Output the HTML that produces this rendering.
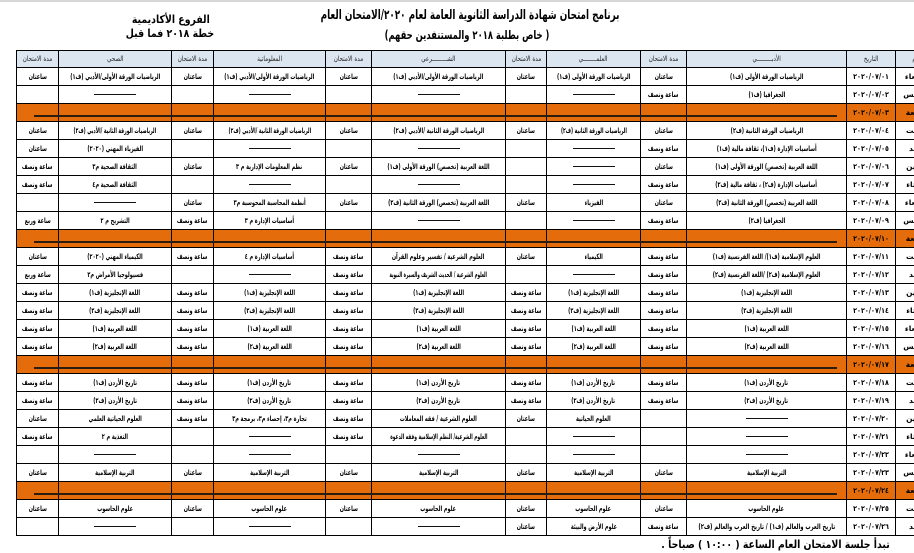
<!DOCTYPE html>
<html lang="ar">
<head>
<meta charset="utf-8">
<style>
html,body{margin:0;padding:0;}
body{width:914px;height:553px;overflow:hidden;background:#fff;position:relative;font-family:"DejaVu Sans","Liberation Sans",sans-serif;color:#000;}
.topbar{position:absolute;left:0;top:0;width:914px;height:2px;background:#d6d6d6;}
.ttl{position:absolute;white-space:nowrap;font-weight:bold;direction:rtl;}
.ttl span{display:inline-block;}
table{position:absolute;left:16px;top:50px;border-collapse:collapse;table-layout:fixed;width:924px;direction:rtl;}
td,th{border:1px solid #000;padding:0;text-align:center;white-space:nowrap;vertical-align:middle;line-height:10px;}
tr{height:18px;}
tr.h{height:17px;}
th{background:#dce6f1;font-size:7px;font-weight:normal;color:#222;}
th span{display:inline-block;transform:scaleX(.8);}
td{font-size:7.5px;font-weight:bold;}
td b{display:inline-block;transform:scaleX(.66);font-weight:bold;margin:0 -70px;}
td b.l{transform:scaleX(.54);}
td i{display:inline-block;width:42px;height:1px;background:#111;vertical-align:middle;}
td.dt{position:relative;}
td.dt b{direction:ltr;unicode-bidi:isolate;transform:scaleX(.85);margin:0;}
td.dy{overflow:hidden;}
tr.o td{background:#e46c0a;}
td.dt s{position:absolute;right:calc(100% + 10px);top:11px;width:803px;height:2px;background:#2b1d10;text-decoration:none;}
</style>
</head>
<body>
<div class="topbar"></div>

<div class="ttl" style="right:295px;top:8px;font-size:13px;"><span style="transform:scaleX(.68);transform-origin:right center;">برنامج امتحان شهادة الدراسة الثانوية العامة لعام ٢٠٢٠/الامتحان العام</span></div>
<div class="ttl" style="right:365px;top:28px;font-size:12px;"><span style="transform:scaleX(.7);transform-origin:right center;">( خاص بطلبة ٢٠١٨ والمستنفدين حقهم)</span></div>

<div class="ttl" style="left:120px;width:102px;text-align:center;top:13px;font-size:11px;"><span style="transform:scaleX(.85);">الفروع الأكاديمية</span></div>
<div class="ttl" style="left:120px;width:102px;text-align:center;top:27px;font-size:11px;"><span style="transform:scaleX(.85);">خطة ٢٠١٨ فما قبل</span></div>

<table>
<colgroup>
<col style="width:45px"><col style="width:49px"><col style="width:160px"><col style="width:46px"><col style="width:94px"><col style="width:41px"><col style="width:134px"><col style="width:46px"><col style="width:112px"><col style="width:42px"><col style="width:113px"><col style="width:42px">
</colgroup>
<tr class="h"><th><span>اليوم</span></th><th><span>التاريخ</span></th><th><span>الأدبـــــــــي</span></th><th><span>مدة الامتحان</span></th><th><span>العلمــــــــي</span></th><th><span>مدة الامتحان</span></th><th><span>الشـــــــــرعي</span></th><th><span>مدة الامتحان</span></th><th><span>المعلوماتية</span></th><th><span>مدة الامتحان</span></th><th><span>الصحي</span></th><th><span>مدة الامتحان</span></th></tr>

<tr><td class="dy">الأربعاء</td><td class="dt"><b>٢٠٢٠/٠٧/٠١</b></td><td><b>الرياضيات الورقة الأولى (ف١)</b></td><td><b>ساعتان</b></td><td><b>الرياضيات الورقة الأولى (ف١)</b></td><td><b>ساعتان</b></td><td><b>الرياضيات الورقة الأولى/الأدبي (ف١)</b></td><td><b>ساعتان</b></td><td><b>الرياضيات الورقة الأولى/الأدبي (ف١)</b></td><td><b>ساعتان</b></td><td><b>الرياضيات الورقة الأولى/الأدبي (ف١)</b></td><td><b>ساعتان</b></td></tr>

<tr><td class="dy">الخميس</td><td class="dt"><b>٢٠٢٠/٠٧/٠٢</b></td><td><b>الجغرافيا (ف١)</b></td><td><b>ساعة ونصف</b></td><td><i></i></td><td></td><td><i></i></td><td></td><td><i></i></td><td></td><td><i></i></td><td></td></tr>

<tr class="o"><td class="dy">الجمعة</td><td class="dt"><b>٢٠٢٠/٠٧/٠٣</b><s></s></td><td></td><td></td><td></td><td></td><td></td><td></td><td></td><td></td><td></td><td></td></tr>

<tr><td class="dy">السبت</td><td class="dt"><b>٢٠٢٠/٠٧/٠٤</b></td><td><b>الرياضيات الورقة الثانية (ف٢)</b></td><td><b>ساعتان</b></td><td><b style="transform:scaleX(.6)">الرياضيات الورقة الثانية (ف٢)</b></td><td><b>ساعتان</b></td><td><b>الرياضيات الورقة الثانية /الأدبي (ف٢)</b></td><td><b>ساعتان</b></td><td><b style="transform:scaleX(.6)">الرياضيات الورقة الثانية /الأدبي (ف٢)</b></td><td><b>ساعتان</b></td><td><b style="transform:scaleX(.6)">الرياضيات الورقة الثانية /الأدبي (ف٢)</b></td><td><b>ساعتان</b></td></tr>

<tr><td class="dy">الأحد</td><td class="dt"><b>٢٠٢٠/٠٧/٠٥</b></td><td><b>أساسيات الإدارة (ف١)، ثقافة مالية (ف١)</b></td><td><b>ساعة ونصف</b></td><td><i></i></td><td></td><td><i></i></td><td></td><td><i></i></td><td></td><td><b>الفيزياء المهني (٢٠٢٠)</b></td><td><b>ساعتان</b></td></tr>

<tr><td class="dy">الاثنين</td><td class="dt"><b>٢٠٢٠/٠٧/٠٦</b></td><td><b>اللغة العربية (تخصص) الورقة الأولى (ف١)</b></td><td><b>ساعتان</b></td><td><i></i></td><td></td><td><b>اللغة العربية (تخصص) الورقة الأولى (ف١)</b></td><td><b>ساعتان</b></td><td><b>نظم المعلومات الإدارية م ٣</b></td><td><b>ساعتان</b></td><td><b>الثقافة الصحية م٣</b></td><td><b>ساعة ونصف</b></td></tr>

<tr><td class="dy">الثلاثاء</td><td class="dt"><b>٢٠٢٠/٠٧/٠٧</b></td><td><b>أساسيات الإدارة (ف٢) ، ثقافة مالية (ف٢)</b></td><td><b>ساعة ونصف</b></td><td><i></i></td><td></td><td><i></i></td><td></td><td><i></i></td><td></td><td><b>الثقافة الصحية م٤</b></td><td><b>ساعة ونصف</b></td></tr>

<tr><td class="dy">الأربعاء</td><td class="dt"><b>٢٠٢٠/٠٧/٠٨</b></td><td><b>اللغة العربية (تخصص) الورقة الثانية (ف٢)</b></td><td><b>ساعتان</b></td><td><b>الفيزياء</b></td><td><b>ساعتان</b></td><td><b>اللغة العربية (تخصص) الورقة الثانية (ف٢)</b></td><td><b>ساعتان</b></td><td><b>أنظمة المحاسبة المحوسبة م٣</b></td><td><b>ساعتان</b></td><td><i></i></td><td></td></tr>

<tr><td class="dy">الخميس</td><td class="dt"><b>٢٠٢٠/٠٧/٠٩</b></td><td><b>الجغرافيا (ف٢)</b></td><td><b>ساعة ونصف</b></td><td><i></i></td><td></td><td><i></i></td><td></td><td><b>أساسيات الإدارة م ٣</b></td><td><b>ساعة ونصف</b></td><td><b>التشريح م ٢</b></td><td><b>ساعة وربع</b></td></tr>

<tr class="o"><td class="dy">الجمعة</td><td class="dt"><b>٢٠٢٠/٠٧/١٠</b><s></s></td><td></td><td></td><td></td><td></td><td></td><td></td><td></td><td></td><td></td><td></td></tr>

<tr><td class="dy">السبت</td><td class="dt"><b>٢٠٢٠/٠٧/١١</b></td><td><b>العلوم الإسلامية (ف١)/ اللغة الفرنسية (ف١)</b></td><td><b>ساعة ونصف</b></td><td><b>الكيمياء</b></td><td><b>ساعتان</b></td><td><b>العلوم الشرعية / تفسير وعلوم القرآن</b></td><td><b>ساعة ونصف</b></td><td><b>أساسيات الإدارة م ٤</b></td><td><b>ساعة ونصف</b></td><td><b>الكيمياء المهني (٢٠٢٠)</b></td><td><b>ساعتان</b></td></tr>

<tr><td class="dy">الأحد</td><td class="dt"><b>٢٠٢٠/٠٧/١٢</b></td><td><b>العلوم الإسلامية (ف٢) /اللغة الفرنسية (ف٢)</b></td><td><b>ساعة ونصف</b></td><td><i></i></td><td></td><td><b class="l">العلوم الشرعية / الحديث الشريف والسيرة النبوية</b></td><td><b>ساعة ونصف</b></td><td><i></i></td><td></td><td><b>فسيولوجيا الأمراض م٢</b></td><td><b>ساعة وربع</b></td></tr>

<tr><td class="dy">الاثنين</td><td class="dt"><b>٢٠٢٠/٠٧/١٣</b></td><td><b>اللغة الإنجليزية (ف١)</b></td><td><b>ساعة ونصف</b></td><td><b>اللغة الإنجليزية (ف١)</b></td><td><b>ساعة ونصف</b></td><td><b>اللغة الإنجليزية (ف١)</b></td><td><b>ساعة ونصف</b></td><td><b>اللغة الإنجليزية (ف١)</b></td><td><b>ساعة ونصف</b></td><td><b>اللغة الإنجليزية (ف١)</b></td><td><b>ساعة ونصف</b></td></tr>

<tr><td class="dy">الثلاثاء</td><td class="dt"><b>٢٠٢٠/٠٧/١٤</b></td><td><b>اللغة الإنجليزية (ف٢)</b></td><td><b>ساعة ونصف</b></td><td><b>اللغة الإنجليزية (ف٢)</b></td><td><b>ساعة ونصف</b></td><td><b>اللغة الإنجليزية (ف٢)</b></td><td><b>ساعة ونصف</b></td><td><b>اللغة الإنجليزية (ف٢)</b></td><td><b>ساعة ونصف</b></td><td><b>اللغة الإنجليزية (ف٢)</b></td><td><b>ساعة ونصف</b></td></tr>

<tr><td class="dy">الأربعاء</td><td class="dt"><b>٢٠٢٠/٠٧/١٥</b></td><td><b>اللغة العربية (ف١)</b></td><td><b>ساعة ونصف</b></td><td><b>اللغة العربية (ف١)</b></td><td><b>ساعة ونصف</b></td><td><b>اللغة العربية (ف١)</b></td><td><b>ساعة ونصف</b></td><td><b>اللغة العربية (ف١)</b></td><td><b>ساعة ونصف</b></td><td><b>اللغة العربية (ف١)</b></td><td><b>ساعة ونصف</b></td></tr>

<tr><td class="dy">الخميس</td><td class="dt"><b>٢٠٢٠/٠٧/١٦</b></td><td><b>اللغة العربية (ف٢)</b></td><td><b>ساعة ونصف</b></td><td><b>اللغة العربية (ف٢)</b></td><td><b>ساعة ونصف</b></td><td><b>اللغة العربية (ف٢)</b></td><td><b>ساعة ونصف</b></td><td><b>اللغة العربية (ف٢)</b></td><td><b>ساعة ونصف</b></td><td><b>اللغة العربية (ف٢)</b></td><td><b>ساعة ونصف</b></td></tr>

<tr class="o"><td class="dy">الجمعة</td><td class="dt"><b>٢٠٢٠/٠٧/١٧</b><s></s></td><td></td><td></td><td></td><td></td><td></td><td></td><td></td><td></td><td></td><td></td></tr>

<tr><td class="dy">السبت</td><td class="dt"><b>٢٠٢٠/٠٧/١٨</b></td><td><b>تاريخ الأردن (ف١)</b></td><td><b>ساعة ونصف</b></td><td><b>تاريخ الأردن (ف١)</b></td><td><b>ساعة ونصف</b></td><td><b>تاريخ الأردن (ف١)</b></td><td><b>ساعة ونصف</b></td><td><b>تاريخ الأردن (ف١)</b></td><td><b>ساعة ونصف</b></td><td><b>تاريخ الأردن (ف١)</b></td><td><b>ساعة ونصف</b></td></tr>

<tr><td class="dy">الأحد</td><td class="dt"><b>٢٠٢٠/٠٧/١٩</b></td><td><b>تاريخ الأردن (ف٢)</b></td><td><b>ساعة ونصف</b></td><td><b>تاريخ الأردن (ف٢)</b></td><td><b>ساعة ونصف</b></td><td><b>تاريخ الأردن (ف٢)</b></td><td><b>ساعة ونصف</b></td><td><b>تاريخ الأردن (ف٢)</b></td><td><b>ساعة ونصف</b></td><td><b>تاريخ الأردن (ف٢)</b></td><td><b>ساعة ونصف</b></td></tr>

<tr><td class="dy">الاثنين</td><td class="dt"><b>٢٠٢٠/٠٧/٢٠</b></td><td><i></i></td><td></td><td><b>العلوم الحياتية</b></td><td><b>ساعتان</b></td><td><b>العلوم الشرعية / فقه المعاملات</b></td><td><b>ساعة ونصف</b></td><td><b>تجارة م٣، إحصاء م٣، برمجة م٣</b></td><td><b>ساعة ونصف</b></td><td><b>العلوم الحياتية العلمي</b></td><td><b>ساعتان</b></td></tr>

<tr><td class="dy">الثلاثاء</td><td class="dt"><b>٢٠٢٠/٠٧/٢١</b></td><td><i></i></td><td></td><td><i></i></td><td></td><td><b style="transform:scaleX(.58)">العلوم الشرعية/ النظم الإسلامية وفقه الدعوة</b></td><td><b>ساعة ونصف</b></td><td><i></i></td><td></td><td><b>التغذية م ٢</b></td><td><b>ساعة ونصف</b></td></tr>

<tr><td class="dy">الأربعاء</td><td class="dt"><b>٢٠٢٠/٠٧/٢٢</b></td><td><i></i></td><td></td><td><i></i></td><td></td><td><i></i></td><td></td><td><i></i></td><td></td><td><i></i></td><td></td></tr>

<tr><td class="dy">الخميس</td><td class="dt"><b>٢٠٢٠/٠٧/٢٣</b></td><td><b>التربية الإسلامية</b></td><td><b>ساعتان</b></td><td><b>التربية الإسلامية</b></td><td><b>ساعتان</b></td><td><b>التربية الإسلامية</b></td><td><b>ساعتان</b></td><td><b>التربية الإسلامية</b></td><td><b>ساعتان</b></td><td><b>التربية الإسلامية</b></td><td><b>ساعتان</b></td></tr>

<tr class="o"><td class="dy">الجمعة</td><td class="dt"><b>٢٠٢٠/٠٧/٢٤</b><s></s></td><td></td><td></td><td></td><td></td><td></td><td></td><td></td><td></td><td></td><td></td></tr>

<tr><td class="dy">السبت</td><td class="dt"><b>٢٠٢٠/٠٧/٢٥</b></td><td><b>علوم الحاسوب</b></td><td><b>ساعتان</b></td><td><b>علوم الحاسوب</b></td><td><b>ساعتان</b></td><td><b>علوم الحاسوب</b></td><td><b>ساعتان</b></td><td><b>علوم الحاسوب</b></td><td><b>ساعتان</b></td><td><b>علوم الحاسوب</b></td><td><b>ساعتان</b></td></tr>

<tr><td class="dy">الأحد</td><td class="dt"><b>٢٠٢٠/٠٧/٢٦</b></td><td><b style="transform:scaleX(.7)">تاريخ العرب والعالم (ف١) / تاريخ العرب والعالم (ف٢)</b></td><td><b>ساعة ونصف</b></td><td><b>علوم الأرض والبيئة</b></td><td><b>ساعتان</b></td><td><i></i></td><td></td><td><i></i></td><td></td><td><i></i></td><td></td></tr>
</table>

<div class="ttl" style="right:24px;top:538px;font-size:11px;"><span style="transform:scaleX(.85);transform-origin:right center;">تبدأ جلسة الامتحان العام الساعة ( ١٠:٠٠ ) صباحاً .</span></div>
</body>
</html>
